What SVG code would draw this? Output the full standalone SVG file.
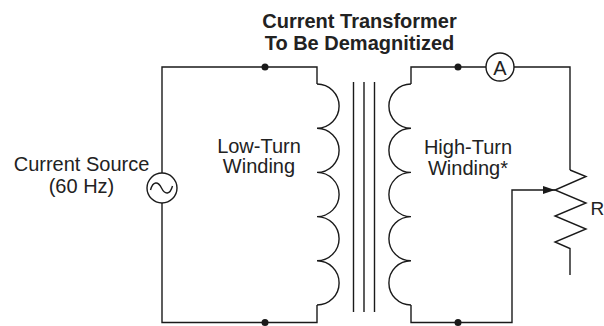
<svg xmlns="http://www.w3.org/2000/svg" width="604" height="326" viewBox="0 0 604 326">
<style>
.w{fill:none;stroke:#1a1a1a;stroke-width:1.4;stroke-linejoin:miter}
.t{font-family:"Liberation Sans",Arial,sans-serif;font-size:20px;fill:#222;text-anchor:middle}
.b{font-family:"Liberation Sans",Arial,sans-serif;font-size:20px;font-weight:bold;fill:#222;text-anchor:middle}
.d{fill:#1a1a1a}
</style>
<defs>
<marker id="ah" markerWidth="12" markerHeight="8" refX="12" refY="4" orient="auto" markerUnits="userSpaceOnUse">
<path d="M0,0 L12,4 L0,8 Z" fill="#1a1a1a"/>
</marker>
</defs>
<rect width="604" height="326" fill="#fff"/>
<g id="title">
<text class="b" x="359.5" y="28">Current Transformer</text>
<text class="b" x="359.5" y="49.5">To Be Demagnitized</text>
</g>
<g id="connectors">
<path class="w" d="M162,173 V67 H317 V84"/>
<path class="w" d="M317,305 V322.5 H162 V203"/>
<path class="w" d="M486,67 H411 V84"/>
<path class="w" d="M411,305 V322.5 H512 V190 H555" marker-end="url(#ah)"/>
<path class="w" d="M514,67 H570 V170"/>
</g>
<g id="source">
<circle class="w" cx="162" cy="188" r="15"/>
<path class="w" d="M150.5,190 C153,181 158,181 161.5,188 C165,195 170,195 172.5,186"/>
<text class="t" x="81.5" y="171">Current Source</text>
<text class="t" x="81.5" y="192.5">(60 Hz)</text>
</g>
<g id="low-turn-winding">
<path class="w" d="M317,84 a22.1,22.1 0 0 1 0,44.2 a22.1,22.1 0 0 1 0,44.2 a22.1,22.1 0 0 1 0,44.2 a22.1,22.1 0 0 1 0,44.2 a22.1,22.1 0 0 1 0,44.2"/>
<text class="t" x="259" y="152.5">Low-Turn</text>
<text class="t" x="259" y="173">Winding</text>
</g>
<g id="core">
<path class="w" d="M353.5,82 V312 M364,82 V312 M374.5,82 V312"/>
</g>
<g id="high-turn-winding">
<path class="w" d="M411,84 a22.1,22.1 0 0 0 0,44.2 a22.1,22.1 0 0 0 0,44.2 a22.1,22.1 0 0 0 0,44.2 a22.1,22.1 0 0 0 0,44.2 a22.1,22.1 0 0 0 0,44.2"/>
<text class="t" x="468" y="154">High-Turn</text>
<text class="t" x="468" y="174.5">Winding*</text>
</g>
<g id="ammeter">
<circle class="w" cx="500" cy="67" r="14"/>
<text class="t" x="500" y="74.5">A</text>
</g>
<g id="resistor">
<path class="w" d="M570,170 L586,176.5 L555,190 L586,203 L555,216 L586,229 L555,242 L570,248.5 V275"/>
<text x="590.5" y="215" style="font-family:'Liberation Sans',Arial,sans-serif;font-size:19px;fill:#222">R</text>
</g>
<g id="junctions">
<circle class="d" cx="265" cy="67" r="3.5"/>
<circle class="d" cx="265" cy="322.5" r="3.5"/>
<circle class="d" cx="458" cy="67" r="3.5"/>
<circle class="d" cx="458" cy="322.5" r="3.5"/>
</g>
</svg>
